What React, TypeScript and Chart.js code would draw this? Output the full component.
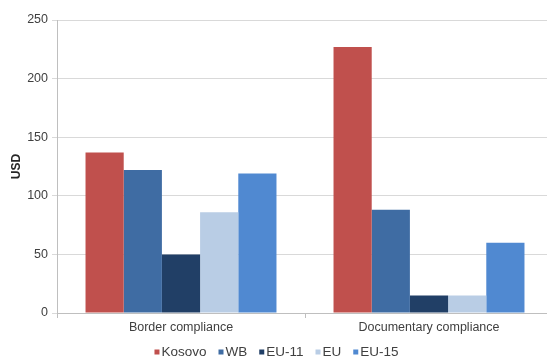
import React, { useEffect, useRef } from "react";
import { Chart, registerables } from "chart.js";

Chart.register(...registerables);

const categories = ["Border compliance", "Documentary compliance"];
const seriesNames = ["Kosovo", "WB", "EU-11", "EU", "EU-15"];
const kosovo = [137, 227];
const wb = [122, 88];
const eu11 = [50, 15];
const eu = [86, 15];
const eu15 = [119, 60];
const seriesColors = ["#C0504D", "#3F6CA3", "#213F66", "#B9CDE5", "#5089D1"];
const yTicks = [0, 50, 100, 150, 200, 250];

const FONT = "'Liberation Sans', Arial, sans-serif";

// Legend row under the axis: small square swatch tight against each label.
const swatchLegend = {
  id: "swatchLegend",
  afterDraw(chart: any) {
    const ctx = chart.ctx;
    const box = 5;
    const boxGap = 2;
    const itemGap = 12;
    const y = 352;
    ctx.save();
    ctx.font = `13.5px ${FONT}`;
    ctx.textBaseline = "middle";
    ctx.textAlign = "left";
    const items = chart.data.datasets.map((ds: any) => ({
      text: ds.label as string,
      color: ds.backgroundColor as string,
      width: ctx.measureText(ds.label).width,
    }));
    const total =
      items.reduce((s: number, it: any) => s + box + boxGap + it.width, 0) +
      itemGap * (items.length - 1);
    let x = chart.width / 2 - total / 2;
    for (const it of items) {
      ctx.fillStyle = it.color;
      ctx.fillRect(x, y - box / 2, box, box);
      x += box + boxGap;
      ctx.fillStyle = "#404040";
      ctx.fillText(it.text, x, y + 0.5);
      x += it.width + itemGap;
    }
    ctx.restore();
  },
};

export default function App() {
  const ref = useRef<HTMLCanvasElement | null>(null);

  useEffect(() => {
    if (!ref.current) return;
    const values = [kosovo, wb, eu11, eu, eu15];
    const chart = new Chart(ref.current, {
      type: "bar",
      data: {
        labels: categories,
        datasets: seriesNames.map((name, i) => ({
          label: name,
          data: values[i],
          backgroundColor: seriesColors[i],
          borderWidth: 0,
          barPercentage: 1,
          categoryPercentage: 0.77,
        })),
      },
      plugins: [swatchLegend],
      options: {
        animation: false,
        responsive: false,
        maintainAspectRatio: false,
        layout: { padding: { top: 20, right: 0, left: 0, bottom: 27 } },
        plugins: {
          tooltip: { enabled: false },
          legend: { display: false },
        },
        scales: {
          x: {
            grid: {
              display: true,
              drawOnChartArea: false,
              color: "#bfbfbf",
              tickLength: 5,
            },
            border: { color: "#bfbfbf" },
            ticks: {
              color: "#404040",
              font: { family: FONT, size: 12.5 },
              padding: 2,
            },
            afterFit: (scale: any) => {
              scale.height = 20;
              // let the category labels spill below the slim axis box
              scale._computeLabelArea = () => undefined;
            },
          },
          y: {
            min: 0,
            max: 250,
            afterBuildTicks: (scale: any) => {
              scale.ticks = yTicks.map((v) => ({ value: v }));
            },
            grid: {
              color: "#d9d9d9",
              tickLength: 5,
            },
            border: { color: "#bfbfbf" },
            ticks: {
              color: "#404040",
              font: { family: FONT, size: 12.5 },
              padding: 4,
            },
            title: {
              display: true,
              text: "USD",
              color: "#262626",
              font: { family: FONT, size: 12, weight: "bold" },
              padding: { top: 9, bottom: 0 },
            },
            afterFit: (scale: any) => {
              scale.width = 57;
            },
          },
        },
      },
    });
    return () => chart.destroy();
  }, []);

  return (
    <div
      style={{
        position: "absolute",
        left: 0,
        top: 0,
        width: 547,
        height: 360,
        overflow: "hidden",
        background: "#ffffff",
      }}
    >
      <canvas ref={ref} width={553} height={360} style={{ display: "block" }} />
    </div>
  );
}
